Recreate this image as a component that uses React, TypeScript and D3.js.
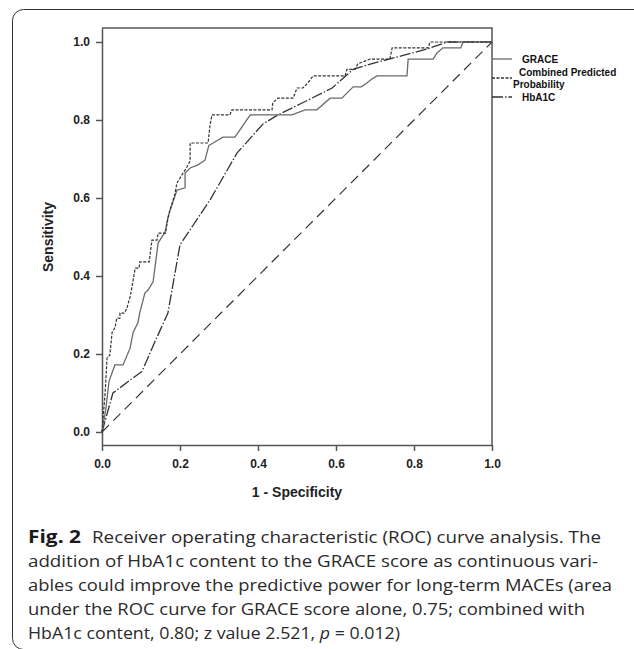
import React, { useEffect, useRef } from 'react';
import * as d3 from 'd3';

// ROC points: [1 - specificity, sensitivity]
const grace: [number, number][] = [
  [0, 0], [0.01, 0.06], [0.018, 0.13], [0.033, 0.172], [0.054, 0.172], [0.072, 0.215],
  [0.08, 0.256], [0.092, 0.28], [0.097, 0.307], [0.11, 0.356], [0.118, 0.364], [0.131, 0.385],
  [0.144, 0.485], [0.162, 0.513], [0.169, 0.551], [0.192, 0.62], [0.213, 0.626], [0.213, 0.664],
  [0.226, 0.677], [0.246, 0.685], [0.264, 0.697], [0.274, 0.735], [0.285, 0.741], [0.31, 0.756],
  [0.341, 0.756], [0.362, 0.787], [0.38, 0.813], [0.487, 0.813], [0.521, 0.826], [0.551, 0.826],
  [0.585, 0.856], [0.615, 0.856], [0.644, 0.885], [0.665, 0.885], [0.679, 0.895], [0.692, 0.905],
  [0.705, 0.913], [0.782, 0.913], [0.785, 0.956], [0.849, 0.956], [0.859, 0.972], [0.874, 0.985],
  [0.92, 0.985], [0.926, 1], [1, 1],
];

const combined: [number, number][] = [
  [0, 0], [0.008, 0.1], [0.013, 0.19], [0.02, 0.197], [0.026, 0.256], [0.033, 0.267],
  [0.038, 0.292], [0.046, 0.292], [0.046, 0.305], [0.058, 0.305], [0.064, 0.318], [0.072, 0.346],
  [0.077, 0.372], [0.085, 0.42], [0.095, 0.42], [0.097, 0.436], [0.121, 0.436], [0.128, 0.492],
  [0.141, 0.492], [0.144, 0.51], [0.163, 0.51], [0.167, 0.536], [0.174, 0.569], [0.187, 0.61],
  [0.192, 0.638], [0.208, 0.664], [0.218, 0.68], [0.226, 0.695], [0.226, 0.741], [0.272, 0.741],
  [0.277, 0.787], [0.282, 0.813], [0.328, 0.813], [0.333, 0.826], [0.436, 0.826], [0.438, 0.844],
  [0.451, 0.856], [0.49, 0.856], [0.5, 0.882], [0.515, 0.882], [0.528, 0.895], [0.541, 0.913],
  [0.623, 0.913], [0.628, 0.93], [0.649, 0.93], [0.656, 0.944], [0.687, 0.956], [0.738, 0.956],
  [0.744, 0.985], [0.836, 0.985], [0.841, 1], [1, 1],
];

const hba1c: [number, number][] = [
  [0, 0], [0.028, 0.1], [0.103, 0.156], [0.135, 0.23], [0.169, 0.305], [0.2, 0.48],
  [0.277, 0.595], [0.346, 0.715], [0.413, 0.79], [0.451, 0.813], [0.508, 0.841], [0.59, 0.882],
  [0.644, 0.93], [0.69, 0.944], [0.77, 0.965], [0.833, 0.982], [0.885, 1], [1, 1],
];

const reference: [number, number][] = [[0, 0], [1, 1]];

const ticks = [0, 0.2, 0.4, 0.6, 0.8, 1.0];

const captionLines = [
  'addition of HbA1c content to the GRACE score as continuous vari-',
  'ables could improve the predictive power for long-term MACEs (area',
  'under the ROC curve for GRACE score alone, 0.75; combined with',
];

export default function App() {
  const svgRef = useRef<SVGSVGElement>(null);

  useEffect(() => {
    document.body.style.margin = '0';
    const svg = d3.select(svgRef.current);
    svg.selectAll('*').remove();

    const x = d3.scaleLinear().domain([0, 1]).range([102, 492]);
    const y = d3.scaleLinear().domain([-13 / 390, 1 + 14 / 390]).range([445, 28]);
    const line = d3.line<[number, number]>().x(d => x(d[0])).y(d => y(d[1]));

    const axisColor = '#555';
    const font = '"Liberation Sans", Arial, sans-serif';

    // outer rounded frame of the figure
    svg.append('rect')
      .attr('x', 12.5).attr('y', 9.5).attr('width', 700).attr('height', 640)
      .attr('rx', 11)
      .attr('fill', 'none').attr('stroke', '#333').attr('stroke-width', 1);

    // top and right border of plot
    svg.append('path')
      .attr('d', `M${x(0)},${y.range()[1]}H${x(1)}V${y.range()[0]}`)
      .attr('fill', 'none').attr('stroke', axisColor).attr('stroke-width', 1.5);

    const gx = svg.append('g').attr('transform', `translate(0,${y.range()[0]})`)
      .call(d3.axisBottom(x).tickValues(ticks).tickFormat(d3.format('.1f')).tickSize(6).tickSizeOuter(0));
    const gy = svg.append('g').attr('transform', `translate(${x(0)},0)`)
      .call(d3.axisLeft(y).tickValues(ticks).tickFormat(d3.format('.1f')).tickSize(6).tickSizeOuter(0));

    [gx, gy].forEach(g => {
      g.select('.domain').attr('stroke', axisColor).attr('stroke-width', 1.5);
      g.selectAll('.tick line').attr('stroke', axisColor).attr('stroke-width', 1.5);
      g.selectAll('.tick text')
        .attr('fill', '#222').attr('font-family', font).attr('font-weight', 'bold').attr('font-size', 12);
    });
    gx.selectAll('.tick text').attr('dy', '1.15em');
    gy.selectAll('.tick text').attr('dx', '-0.25em');

    svg.append('text')
      .attr('x', 297).attr('y', 497)
      .attr('text-anchor', 'middle')
      .attr('font-family', font).attr('font-weight', 'bold').attr('font-size', 14)
      .attr('fill', '#222')
      .text('1 - Specificity');

    svg.append('text')
      .attr('transform', `translate(53,${y(0.5)}) rotate(-90)`)
      .attr('text-anchor', 'middle')
      .attr('font-family', font).attr('font-weight', 'bold').attr('font-size', 14)
      .attr('fill', '#222')
      .text('Sensitivity');

    // curves
    svg.append('path').attr('d', line(reference)!)
      .attr('fill', 'none').attr('stroke', '#333').attr('stroke-width', 1.2)
      .attr('stroke-dasharray', '10,6');

    svg.append('path').attr('d', line(hba1c)!)
      .attr('fill', 'none').attr('stroke', '#333').attr('stroke-width', 1.3)
      .attr('stroke-dasharray', '11,2,1.5,2');

    svg.append('path').attr('d', line(grace)!)
      .attr('fill', 'none').attr('stroke', '#6a6a6a').attr('stroke-width', 1.3);

    svg.append('path').attr('d', line(combined)!)
      .attr('fill', 'none').attr('stroke', '#333').attr('stroke-width', 1.2)
      .attr('stroke-dasharray', '3,1.5');

    // legend
    const legend = [
      { y: 59, stroke: '#6a6a6a', dash: null },
      { y: 78, stroke: '#333', dash: '3,1.5' },
      { y: 97, stroke: '#333', dash: '11,2,1.5,2' },
    ];
    legend.forEach(l => {
      const p = svg.append('line')
        .attr('x1', x(1)).attr('x2', x(1) + 20).attr('y1', l.y).attr('y2', l.y)
        .attr('stroke', l.stroke).attr('stroke-width', 1.3);
      if (l.dash) p.attr('stroke-dasharray', l.dash);
    });
    const lt = (tx: number, ty: number, s: string) =>
      svg.append('text').attr('x', tx).attr('y', ty)
        .attr('font-family', font).attr('font-weight', 'bold').attr('font-size', 10)
        .attr('fill', '#111').text(s);
    lt(522, 62.5, 'GRACE');
    lt(519, 75.5, 'Combined Predicted');
    lt(513, 87.5, 'Probability');
    lt(522, 100.5, 'HbA1C');

    // caption
    const cap = '"Open Sans", "Noto Sans", sans-serif';
    const lineH = 24;
    const base = 543;
    svg.append('text').attr('x', 28).attr('y', base)
      .attr('font-family', cap).attr('font-weight', 'bold').attr('font-size', 17)
      .attr('fill', '#1a1a1a').attr('textLength', 53).attr('lengthAdjust', 'spacingAndGlyphs')
      .text('Fig. 2');
    svg.append('text').attr('x', 92).attr('y', base)
      .attr('font-family', cap).attr('font-size', 16.5).attr('fill', '#2a2a2a')
      .attr('textLength', 509).attr('lengthAdjust', 'spacingAndGlyphs')
      .text('Receiver operating characteristic (ROC) curve analysis. The');
    const ends = [598, 612, 585];
    captionLines.forEach((s, i) => {
      svg.append('text').attr('x', 28).attr('y', base + lineH * (i + 1))
        .attr('font-family', cap).attr('font-size', 16.5).attr('fill', '#2a2a2a')
        .attr('textLength', ends[i] - 28).attr('lengthAdjust', 'spacingAndGlyphs')
        .text(s);
    });
    const last = svg.append('text').attr('x', 28).attr('y', base + lineH * 4)
      .attr('font-family', cap).attr('font-size', 16.5).attr('fill', '#2a2a2a')
      .attr('textLength', 372).attr('lengthAdjust', 'spacingAndGlyphs');
    last.append('tspan').text('HbA1c content, 0.80; z value 2.521, ');
    last.append('tspan').attr('font-style', 'italic').text('p');
    last.append('tspan').text(' = 0.012)');
  }, []);

  return <svg ref={svgRef} width={634} height={649} style={{ display: 'block', background: '#fff' }} />;
}
